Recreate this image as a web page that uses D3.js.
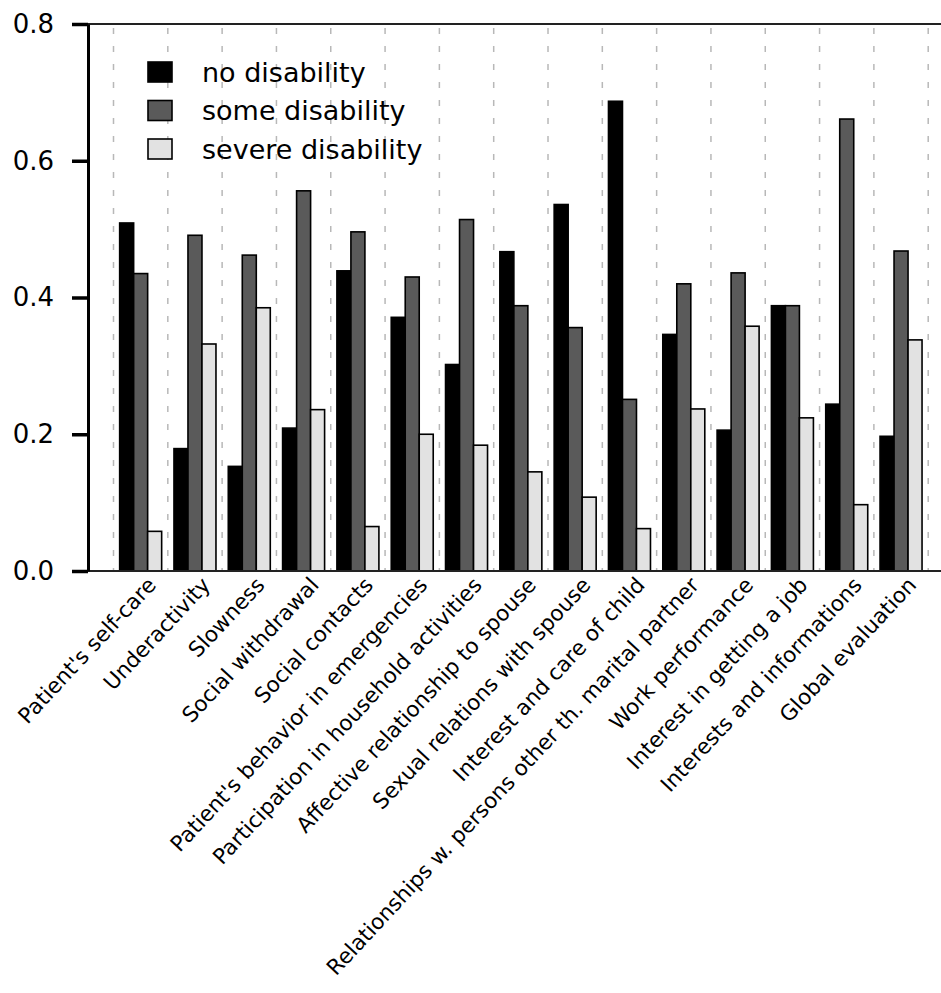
<!DOCTYPE html>
<html>
<head>
<meta charset="utf-8">
<script src="https://cdn.jsdelivr.net/npm/d3@7"></script>
<style>
  body { margin: 0; background: #fff; }
  text { font-family: "DejaVu Sans", sans-serif; fill: #000; }
</style>
</head>
<body>
<svg id="chart"></svg>
<script>
let w = 941;
let h = 993;

// categories along the x axis
let categories = [
    "Patient's self-care",
    "Underactivity",
    "Slowness",
    "Social withdrawal",
    "Social contacts",
    "Patient's behavior in emergencies",
    "Participation in household activities",
    "Affective relationship to spouse",
    "Sexual relations with spouse",
    "Interest and care of child",
    "Relationships w. persons other th. marital partner",
    "Work performance",
    "Interest in getting a job",
    "Interests and informations",
    "Global evaluation"
];

let seriesNames = ["no disability", "some disability", "severe disability"];

// values
let noDisability     = [0.509, 0.179, 0.153, 0.209, 0.439, 0.371, 0.302, 0.467, 0.536, 0.687, 0.346, 0.206, 0.388, 0.244, 0.197];
let someDisability   = [0.435, 0.491, 0.462, 0.556, 0.496, 0.430, 0.514, 0.388, 0.356, 0.251, 0.420, 0.436, 0.388, 0.661, 0.468];
let severeDisability = [0.058, 0.332, 0.385, 0.236, 0.065, 0.200, 0.184, 0.145, 0.108, 0.062, 0.237, 0.358, 0.224, 0.097, 0.338];

let yTicks = [0, 0.2, 0.4, 0.6, 0.8];

let seriesValues = [noDisability, someDisability, severeDisability];
let colors = ["#000000", "#5a5a5a", "#e2e2e2"];

// one row per category, one column per series
let data = categories.map((c, i) => {
    let row = { category: c };
    seriesNames.forEach((s, j) => { row[s] = seriesValues[j][i]; });
    return row;
});

let chart = d3.select("#chart")
    .attr("width", w)
    .attr("height", h);

let xScale = d3.scaleBand()
    .domain(categories)
    .range([113.5, 928.2])
    .paddingInner(0.2267)
    .paddingOuter(0.11335);

let xInner = d3.scaleBand()
    .domain(seriesNames)
    .range([0, xScale.bandwidth()]);

let yScale = d3.scaleLinear()
    .domain([0, 0.8])
    .range([571, 24]);

let color = d3.scaleOrdinal().domain(seriesNames).range(colors);

// dashed separators between groups
chart.append("g")
    .selectAll("line")
    .data(d3.range(categories.length + 1))
    .join("line")
        .attr("x1", i => xScale.range()[0] + i * xScale.step())
        .attr("x2", i => xScale.range()[0] + i * xScale.step())
        .attr("y1", yScale(0.8) + 4)
        .attr("y2", yScale(0))
        .attr("stroke", "#b8b8b8")
        .attr("stroke-width", 1.5)
        .attr("stroke-dasharray", "6,12");

// bars
chart.append("g")
    .selectAll("g")
    .data(data)
    .join("g")
        .attr("transform", d => `translate(${xScale(d.category)},0)`)
    .selectAll("rect")
    .data(d => seriesNames.map(s => ({ key: s, value: d[s] })))
    .join("rect")
        .attr("x", d => xInner(d.key))
        .attr("y", d => yScale(d.value))
        .attr("width", xInner.bandwidth())
        .attr("height", d => yScale(0) - yScale(d.value))
        .attr("fill", d => color(d.key))
        .attr("stroke", "#000")
        .attr("stroke-width", 1.6);

// box top and bottom
chart.append("line")
    .attr("x1", 88).attr("x2", w)
    .attr("y1", yScale(0.8)).attr("y2", yScale(0.8))
    .attr("stroke", "#222").attr("stroke-width", 2);

chart.append("line")
    .attr("x1", 88).attr("x2", w)
    .attr("y1", yScale(0)).attr("y2", yScale(0))
    .attr("stroke", "#222").attr("stroke-width", 2);

// y axis
let yAxis = d3.axisLeft(yScale)
    .tickValues(yTicks)
    .tickSize(16)
    .tickSizeOuter(0)
    .tickPadding(18)
    .tickFormat(d3.format(".1f"));

let yAxisGroup = chart.append("g")
    .attr("transform", "translate(88,0)")
    .call(yAxis);

yAxisGroup.select(".domain")
    .attr("stroke", "#000")
    .attr("stroke-width", 3);

yAxisGroup.selectAll(".tick line")
    .attr("stroke", "#000")
    .attr("stroke-width", 3.5);

yAxisGroup.selectAll(".tick text")
    .attr("font-family", "DejaVu Sans")
    .attr("font-size", 26)
    .attr("fill", "#000");

// rotated category labels
chart.append("g")
    .selectAll("text")
    .data(categories)
    .join("text")
        .attr("transform", d => `translate(${xScale(d) + xScale.bandwidth() / 2 + 16.5},586) rotate(-47)`)
        .attr("text-anchor", "end")
        .attr("font-size", 21.5)
        .text(d => d);

// legend
let legend = chart.append("g")
    .selectAll("g")
    .data(seriesNames)
    .join("g")
        .attr("transform", (d, i) => `translate(148,${72 + i * 38.5})`);

legend.append("rect")
    .attr("x", 0)
    .attr("y", -10)
    .attr("width", 24)
    .attr("height", 20)
    .attr("fill", d => color(d))
    .attr("stroke", "#000")
    .attr("stroke-width", 1.6);

legend.append("text")
    .attr("x", 54)
    .attr("y", 0)
    .attr("dy", "0.36em")
    .attr("font-size", 27)
    .text(d => d);
</script>
</body>
</html>
